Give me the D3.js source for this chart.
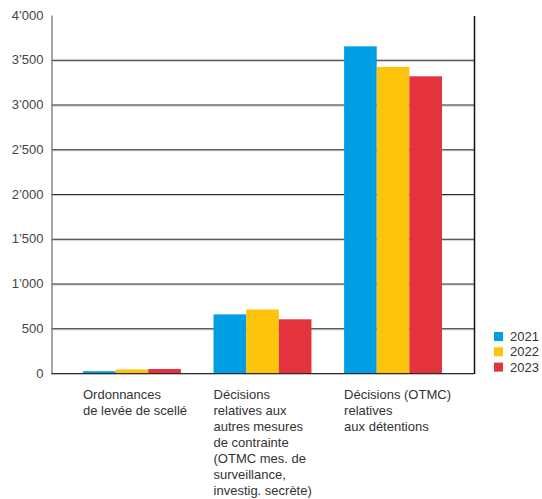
<!DOCTYPE html>
<html>
<head>
<meta charset="utf-8">
<script src="https://cdn.jsdelivr.net/npm/d3@7"></script>
<style>
  html, body { margin: 0; padding: 0; background: #fff; }
  svg { display: block; font-family: "Liberation Sans", Arial, Helvetica, sans-serif; }
</style>
</head>
<body>
<svg id="chart" width="542" height="499"></svg>
<script>
// Categories (each label split into its printed lines)
const categories = [
  ["Ordonnances", "de levée de scellé"],
  ["Décisions", "relatives aux", "autres mesures", "de contrainte", "(OTMC mes. de", "surveillance,", "investig. secrète)"],
  ["Décisions (OTMC)", "relatives", "aux détentions"]
];
const years = ["2021", "2022", "2023"];
const colors = ["#009FE3", "#FEC30B", "#E3343E"];

// Values per year, in category order
const values2021 = [20, 655, 3650];
const values2022 = [40, 710, 3420];
const values2023 = [45, 600, 3315];
const seriesValues = [values2021, values2022, values2023];

const yTicks = [0, 500, 1000, 1500, 2000, 2500, 3000, 3500, 4000];

const svg = d3.select("#chart");
const plot = { left: 51, right: 474, top: 15, bottom: 373 };

const locale = d3.formatLocale({ decimal: ".", thousands: "’", grouping: [3], currency: ["", ""] });
const fmt = locale.format(",");

const y = d3.scaleLinear().domain([0, 4000]).range([plot.bottom, plot.top]);
const x0 = d3.scaleBand().domain(d3.range(categories.length)).range([83, 442]).paddingInner(0.25).paddingOuter(0);
const x1 = d3.scaleBand().domain(d3.range(years.length)).range([0, x0.bandwidth()]).padding(0);

// Gridlines (dark line with a soft grey line beneath)
const grid = svg.append("g");
yTicks.filter(t => t > 0 && t < 4000).forEach(t => {
  grid.append("line").attr("x1", plot.left).attr("x2", plot.right)
    .attr("y1", y(t) + 1.5).attr("y2", y(t) + 1.5)
    .attr("stroke", "#c8c8c8").attr("stroke-width", 1);
  grid.append("line").attr("x1", plot.left).attr("x2", plot.right)
    .attr("y1", y(t) + 0.5).attr("y2", y(t) + 0.5)
    .attr("stroke", "#2a2a2a").attr("stroke-width", 1);
});

// Bars
const groups = svg.append("g").selectAll("g")
  .data(categories.map((c, i) => i))
  .join("g")
  .attr("transform", i => `translate(${x0(i)},0)`);
groups.selectAll("rect")
  .data(i => seriesValues.map((s, k) => ({ k, v: s[i] })))
  .join("rect")
  .attr("x", d => x1(d.k))
  .attr("width", x1.bandwidth())
  .attr("y", d => y(d.v))
  .attr("height", d => y(0) - y(d.v))
  .attr("fill", d => colors[d.k]);

// Baseline
svg.append("line").attr("x1", plot.left).attr("x2", plot.right)
  .attr("y1", plot.bottom + 1.5).attr("y2", plot.bottom + 1.5)
  .attr("stroke", "#c0c0c0").attr("stroke-width", 1);
svg.append("line").attr("x1", plot.left).attr("x2", plot.right)
  .attr("y1", plot.bottom + 0.5).attr("y2", plot.bottom + 0.5)
  .attr("stroke", "#2a2a2a").attr("stroke-width", 1);

// Right frame line
svg.append("line").attr("x1", plot.right + 0.5).attr("x2", plot.right + 0.5)
  .attr("y1", y(4000) + 1).attr("y2", plot.bottom + 1)
  .attr("stroke", "#111").attr("stroke-width", 1.5);

// Y axis
const yAxis = d3.axisLeft(y).tickValues(yTicks).tickFormat(fmt).tickSize(0).tickPadding(8);
const ya = svg.append("g").attr("transform", `translate(${plot.left + 0.5},0)`).call(yAxis);
ya.select(".domain").attr("stroke", "#888").attr("stroke-width", 1.5);
ya.selectAll("text").attr("font-size", 13).attr("fill", "#444")
  .attr("font-family", "\"Liberation Sans\", Arial, sans-serif");

// Category labels
const labels = svg.append("g");
categories.forEach((lines, i) => {
  const t = labels.append("text").attr("x", x0(i)).attr("y", 399)
    .attr("font-size", 13).attr("fill", "#333");
  lines.forEach((ln, j) => {
    t.append("tspan").attr("x", x0(i)).attr("dy", j === 0 ? 0 : 16).text(ln);
  });
});

// Legend
const legend = svg.append("g").attr("transform", "translate(494,332)");
years.forEach((yr, k) => {
  const g = legend.append("g").attr("transform", `translate(0,${k * 15.3})`);
  g.append("rect").attr("width", 9).attr("height", 9).attr("fill", colors[k]);
  g.append("text").attr("x", 16).attr("y", 9).attr("font-size", 13).attr("fill", "#333").text(yr);
});
</script>
</body>
</html>
